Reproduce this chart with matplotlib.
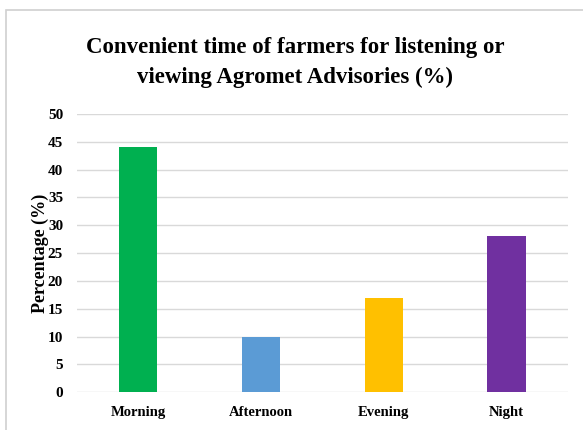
import matplotlib
matplotlib.use("Agg")
import matplotlib.pyplot as plt
from matplotlib.patches import Rectangle

times = ["Morning", "Afternoon", "Evening", "Night"]
percent = [44, 10, 17, 28]
colors = ["#00B050", "#5B9BD5", "#FFC000", "#7030A0"]

plt.rcParams["font.family"] = ["Liberation Serif", "DejaVu Serif"]
plt.rcParams["font.weight"] = "bold"

fig = plt.figure(figsize=(5.83, 4.30), dpi=100)
ax = fig.add_axes([0.132, 0.088, 0.842, 0.647])

x = range(len(times))
ax.bar(x, percent, width=0.31, color=colors, zorder=3)

ax.set_xlim(-0.5, len(times) - 0.5)
ax.set_ylim(0, 50)
ax.set_yticks(range(0, 51, 5))
ax.set_xticks(list(x))
ax.set_xticklabels(times, fontsize=10.5, fontweight="bold")
ax.tick_params(axis="y", labelsize=11, length=0, pad=10)
ax.tick_params(axis="x", length=0, pad=10)
for lbl in ax.get_yticklabels():
    lbl.set_fontweight("bold")
ax.grid(axis="y", color="#d9d9d9", lw=1.0, zorder=0)
for s in ax.spines.values():
    s.set_visible(False)

ax.set_ylabel("Percentage (%)", fontsize=13, fontweight="bold", labelpad=-1)

fig.text(0.506, 0.854, "Convenient time of farmers for listening or\nviewing Agromet Advisories (%)",
         ha="center", va="center", fontsize=16.5, fontweight="bold", linespacing=1.55)

# light frame around the chart
fig.patches.append(Rectangle((6 / 583, -0.01), 1.0, 1 - 10 / 430 + 0.01,
                             transform=fig.transFigure, fill=False,
                             edgecolor="#d0d0d0", lw=1.2))

fig.savefig("out.png", dpi=100)
